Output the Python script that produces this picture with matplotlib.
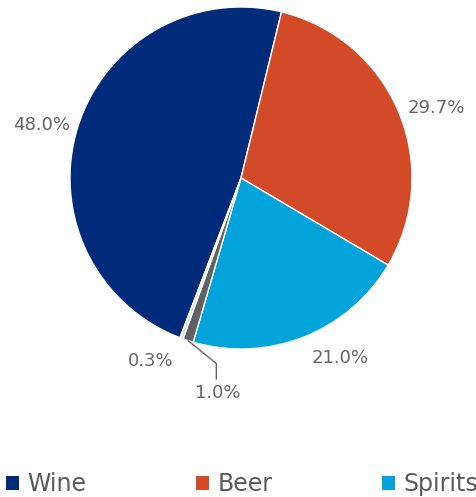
import numpy as np
import matplotlib.pyplot as plt
from matplotlib.patches import Patch

# share of alcohol consumption by beverage type
categories = ['Wine', 'Beer', 'Spirits', 'Other', 'Unrecorded']
shares = [48.0, 29.7, 21.0, 1.0, 0.3]
colors = ['#002a7a', '#d24a28', '#00a3da', '#606164', '#dcdcdc']
legend_items = ['Wine', 'Beer', 'Spirits']

# label distance (in radii) for each slice; the 1.0% one gets a leader line
label_dist = [1.05, 1.06, 1.13, None, 1.14]

W, H, DPI = 477, 497, 100
cx, cy, R = 241, 178, 171          # pie centre and radius in pixels

fig = plt.figure(figsize=(W / DPI, H / DPI), dpi=DPI)
ax = fig.add_axes([0, 0, 1, 1])

wedges, _ = ax.pie(shares, colors=colors, startangle=-110.9, counterclock=False,
                   radius=1.0, wedgeprops=dict(edgecolor='white', linewidth=1))

ax.set_xlim(-cx / R, (W - cx) / R)
ax.set_ylim(-(H - cy) / R, cy / R)
ax.set_aspect('equal')
ax.axis('off')

txt_color = '#666666'
for w, val, d in zip(wedges, shares, label_dist):
    mid = np.deg2rad((w.theta1 + w.theta2) / 2)
    ex, ey = np.cos(mid), np.sin(mid)
    label = f'{val:.1f}%'
    if d is None:
        # leader line: out from the slice edge, then straight down to the label
        tx, ty = ex + 0.175, -1.255
        kx, ky = tx - 0.01, ty + 0.17
        ax.plot([ex, kx, kx], [ey, ky, ty + 0.08], color=txt_color, lw=1)
        ax.text(tx, ty, label, ha='center', va='center', fontsize=13, color=txt_color)
    else:
        ax.text(d * ex, d * ey, label, ha='left' if ex > 0 else 'right',
                va='center', fontsize=13, color=txt_color)

handles = [Patch(facecolor=c, edgecolor='none') for c in colors[:3]]
fig.legend(handles, legend_items, loc='center left',
           bbox_to_anchor=(6 / W, 1 - 484 / H), ncol=3, frameon=False,
           fontsize=17, labelcolor='#5a5a5a', borderpad=0, borderaxespad=0,
           handlelength=0.55, handleheight=0.55, handletextpad=0.35,
           columnspacing=4.65)

fig.savefig('out.png', dpi=DPI)
